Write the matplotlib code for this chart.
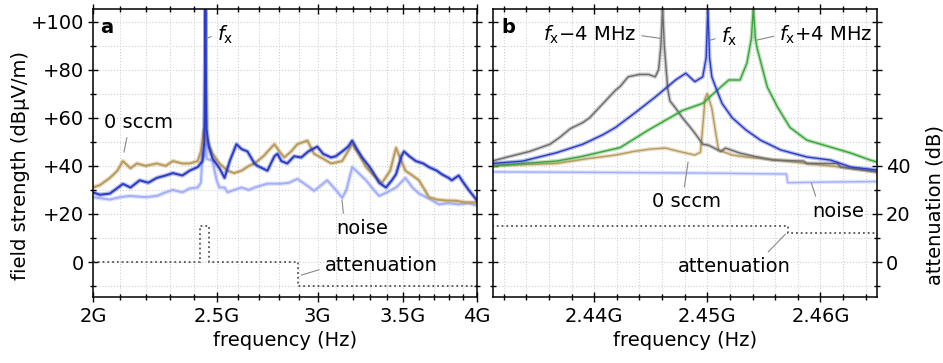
import matplotlib
matplotlib.use('Agg')
import matplotlib.pyplot as plt
from matplotlib.ticker import FixedLocator, MultipleLocator, FuncFormatter, NullFormatter
import numpy as np

plt.rcParams['font.family'] = ['DejaVu Sans']
plt.rcParams['font.size'] = 14
plt.rcParams['mathtext.fontset'] = 'dejavusans'

# ---------------- panel a data (frequency in GHz, level in dBuV/m) ----------------
sig_a_f = [2.000, 2.025, 2.062, 2.111, 2.140, 2.176, 2.210, 2.244, 2.280, 2.310, 2.350, 2.381,
           2.416, 2.437, 2.445, 2.449, 2.450, 2.451, 2.455, 2.465, 2.482, 2.513, 2.536, 2.560,
           2.591, 2.615, 2.643, 2.677, 2.691, 2.740, 2.775, 2.790, 2.810, 2.840, 2.875, 2.913,
           2.950, 2.998, 3.030, 3.074, 3.100, 3.136, 3.170, 3.193, 3.220, 3.251, 3.290, 3.310,
           3.352, 3.394, 3.430, 3.456, 3.490, 3.506, 3.540, 3.582, 3.630, 3.667, 3.720, 3.754,
           3.800, 3.822, 3.870, 3.892, 3.940, 4.000]
sig_a_v = [29, 28, 28.5, 32.5, 31, 34, 33, 35, 36, 37, 36, 38,
           39.5, 42, 50, 90, 106, 90, 55, 48, 43, 39, 35, 42,
           49, 47, 46, 41, 40, 38, 44, 45, 42, 41, 44, 43.5,
           46, 48, 45, 43.5, 44, 46, 48, 50.5, 47, 43.5, 40, 38,
           33, 31, 34, 36.5, 44, 46, 44, 42, 41, 39.5, 38, 36.5,
           35, 34, 36, 34, 30, 25.6]

gas_a_f = [2.000, 2.025, 2.062, 2.090, 2.111, 2.140, 2.165, 2.200, 2.244, 2.280, 2.310, 2.350,
           2.381, 2.416, 2.430, 2.443, 2.450, 2.460, 2.482, 2.513, 2.550, 2.580, 2.615, 2.650,
           2.677, 2.720, 2.775, 2.800, 2.825, 2.860, 2.892, 2.945, 2.981, 3.030, 3.074, 3.136,
           3.193, 3.230, 3.274, 3.320, 3.370, 3.420, 3.456, 3.490, 3.515, 3.560, 3.602, 3.640,
           3.667, 3.720, 3.781, 3.850, 3.920, 4.000]
gas_a_v = [31, 32, 35, 38, 42, 39, 41, 40, 41, 40, 42, 41,
           41, 42, 46, 55, 52, 50, 45, 41, 38, 37, 38, 40,
           41, 44, 49, 46, 43.5, 46, 49, 50.5, 45, 43, 41, 42,
           49, 45, 39.5, 36, 33, 38, 47.5, 42, 38, 36, 34, 30,
           27, 26, 25.6, 25.5, 24.8, 24.8]

noise_a_f = [2.000, 2.062, 2.100, 2.138, 2.200, 2.244, 2.280, 2.310, 2.350, 2.381, 2.416, 2.430,
             2.437, 2.447, 2.449, 2.450, 2.451, 2.455, 2.482, 2.500, 2.513, 2.536, 2.550, 2.580,
             2.615, 2.650, 2.677, 2.740, 2.810, 2.850, 2.892, 2.940, 2.981, 3.020, 3.052, 3.100,
             3.136, 3.160, 3.193, 3.230, 3.274, 3.320, 3.352, 3.400, 3.456, 3.515, 3.560, 3.602,
             3.680, 3.734, 3.800, 3.871, 3.940, 4.000]
noise_a_v = [27, 26, 27, 27.5, 27, 27.5, 29, 30, 29, 30.6, 31, 33,
             45, 44, 70, 104, 70, 43, 42, 34, 31, 31, 29, 30,
             31, 30, 31, 32.6, 32.6, 33, 34.6, 32, 29.6, 32, 34, 30,
             26.7, 30, 39.5, 37, 34, 30, 27.5, 29, 31, 35, 31, 28.5,
             26, 24, 24.5, 24, 24.5, 23.5]

att_a_edges = [2.0, 2.425, 2.468, 2.898, 4.0]
att_a_vals = [0, 15, 0, -10]

# ---------------- panel b data (frequency in MHz) ----------------
lo_b_f = [2431.0, 2432.6, 2434.3, 2436.1, 2437.0, 2437.9, 2439.0, 2439.6, 2440.8, 2441.9, 2442.3,
          2443.0, 2444.0, 2444.8, 2445.4, 2445.7, 2445.9, 2446.05, 2446.2, 2446.5, 2446.7, 2447.2,
          2447.8, 2448.5, 2448.9, 2449.6, 2450.1, 2451.2, 2451.6, 2452.9, 2454.1, 2455.8, 2458.5,
          2458.8, 2461.5, 2461.8, 2465.0]
lo_b_v = [42, 44, 46, 49, 52, 55.5, 58, 60, 66, 71.5, 73,
          77, 78, 78, 77, 80, 90, 106, 90, 72, 67, 64,
          60, 56, 53.6, 49, 48.6, 46, 47.4, 45.3, 44, 42.4, 42,
          41, 41, 39.5, 37.5]

mid_b_f = [2431.0, 2433.7, 2436.7, 2439.0, 2440.8, 2441.9, 2443.6, 2445.4, 2447.2, 2448.1, 2448.9,
           2449.6, 2449.9, 2450.05, 2450.2, 2450.4, 2450.8, 2451.3, 2452.2, 2453.4, 2454.7, 2456.5,
           2458.8, 2460.9, 2462.7, 2465.0]
mid_b_v = [41, 42, 45.5, 49, 53, 56, 62, 68.6, 75.7, 78.5, 75,
           77, 85, 106, 85, 77, 72, 66, 60, 55, 50.7, 46.6,
           43.7, 42.4, 39.5, 38.3]

hi_b_f = [2431.0, 2433.7, 2436.7, 2439.0, 2442.3, 2444.8, 2447.8, 2449.6, 2450.7, 2451.9, 2452.9,
          2453.5, 2453.9, 2454.07, 2454.25, 2454.4, 2454.9, 2455.3, 2456.2, 2457.3, 2458.8, 2460.9,
          2462.7, 2464.4, 2465.0]
hi_b_v = [40, 41, 42, 44, 47.6, 54.9, 63, 66, 70.7, 75.7, 75.7,
          82.7, 93, 106, 93, 89, 80, 72.8, 64.5, 56, 50.7, 47.8,
          45.3, 42.4, 41.6]

gas_b_f = [2431.0, 2433.7, 2436.7, 2439.4, 2441.9, 2443.5, 2445.0, 2446.3, 2447.5, 2448.9, 2449.4,
           2449.65, 2449.8, 2450.0, 2450.4, 2450.7, 2451.0, 2452.2, 2453.4, 2456.0, 2458.8, 2461.8,
           2465.0]
gas_b_v = [40, 40.5, 41, 43, 44.5, 46, 47, 47.4, 46, 44.5, 45.7,
           59, 68, 70, 64, 55, 46.6, 44.5, 43.7, 42.5, 41, 39.5,
           37.5]

noise_b_f = [2431.0, 2440.0, 2450.0, 2457.0, 2457.1, 2461.0, 2465.0]
noise_b_v = [37.5, 37.3, 37.0, 36.6, 33.0, 33.3, 33.5]

att_b_edges = [2431.0, 2457.1, 2465.0]
att_b_vals = [15, 12]

c_sig = '#2b3cc4'
c_gas = '#b99b5c'
c_noise = '#a3affa'
c_lo = '#6d6d6d'
c_hi = '#3aa53a'
c_att = '#555555'


def trace(ax, f, v, color, scale, lw=1.0):
    f = np.array(f) * scale
    ax.plot(f, v, color=color, lw=lw + 1.8, alpha=0.35, solid_joinstyle='round')
    ax.plot(f, v, color=color, lw=lw)


def note(ax, txt, xy, xytext, relpos, ha='center'):
    ax.annotate(txt, xy=xy, xytext=xytext, ha=ha, va='center',
                arrowprops=dict(arrowstyle='-', color='#888888', lw=0.8,
                                relpos=relpos, shrinkA=2, shrinkB=0))


fig = plt.figure(figsize=(9.43, 3.63), dpi=100)
ax_a = fig.add_axes([93 / 943, 66 / 363, 384 / 943, 288 / 363])
ax_b = fig.add_axes([493 / 943, 66 / 363, 384 / 943, 288 / 363])

# panel a
trace(ax_a, noise_a_f, noise_a_v, c_noise, 1e9, lw=1.4)
trace(ax_a, gas_a_f, gas_a_v, c_gas, 1e9, lw=1.4)
trace(ax_a, sig_a_f, sig_a_v, c_sig, 1e9, lw=1.4)
ax_a.stairs(att_a_vals, np.array(att_a_edges) * 1e9, color=c_att, ls=':', lw=1.3, baseline=None)

ax_a.set_xscale('log')
ax_a.set_xlim(2e9, 4e9)
ax_a.xaxis.set_major_locator(FixedLocator([2e9, 2.5e9, 3e9, 3.5e9, 4e9]))
ax_a.xaxis.set_major_formatter(FuncFormatter(lambda x, p: f'{x / 1e9:g}G'))
ax_a.xaxis.set_minor_locator(FixedLocator(np.arange(2.1, 4.0, 0.1) * 1e9))
ax_a.xaxis.set_minor_formatter(NullFormatter())
ax_a.yaxis.set_major_formatter(FuncFormatter(lambda y, p: '0' if y == 0 else f'+{y:g}'))
ax_a.set_ylabel('field strength (dBμV/m)')
ax_a.yaxis.set_label_coords(-0.165, 0.455)

# panel b
trace(ax_b, noise_b_f, noise_b_v, c_noise, 1e6)
trace(ax_b, gas_b_f, gas_b_v, c_gas, 1e6)
trace(ax_b, lo_b_f, lo_b_v, c_lo, 1e6)
trace(ax_b, hi_b_f, hi_b_v, c_hi, 1e6)
trace(ax_b, mid_b_f, mid_b_v, c_sig, 1e6)
ax_b.stairs(att_b_vals, np.array(att_b_edges) * 1e6, color=c_att, ls=':', lw=1.3, baseline=None)

ax_b.set_xlim(2431.06e6, 2465.0e6)
ax_b.xaxis.set_major_locator(FixedLocator([2.44e9, 2.45e9, 2.46e9]))
ax_b.xaxis.set_major_formatter(FuncFormatter(lambda x, p: f'{x / 1e9:.2f}G'))
ax_b.xaxis.set_minor_locator(MultipleLocator(2e6))
ax_b.yaxis.set_major_formatter(FuncFormatter(lambda y, p: f'{y:g}' if y <= 40 else ''))
ax_b.tick_params(axis='y', which='both', labelleft=False, labelright=True)
ax_b.yaxis.set_label_position('right')
ax_b.set_ylabel('attenuation (dB)')
ax_b.yaxis.set_label_coords(1.125, 0.32)

for ax in (ax_a, ax_b):
    ax.set_ylim(-14.5, 105.2)
    ax.yaxis.set_major_locator(FixedLocator([0, 20, 40, 60, 80, 100]))
    ax.yaxis.set_minor_locator(FixedLocator([-10, 10, 30, 50, 70, 90]))
    ax.grid(which='both', color='#d0d0d0', ls=':', lw=0.8)
    ax.set_axisbelow(True)
    ax.tick_params(which='both', direction='inout', top=True, right=True, width=1.0)
    ax.tick_params(which='major', length=7)
    ax.tick_params(which='minor', length=4)
    ax.tick_params(axis='x', pad=4)
    ax.tick_params(axis='y', pad=3)
    for s in ax.spines.values():
        s.set_linewidth(1.1)
    ax.set_xlabel('frequency (Hz)', labelpad=3)

ax_a.text(0.018, 0.917, 'a', transform=ax_a.transAxes, fontweight='bold', va='baseline')
ax_b.text(0.023, 0.917, 'b', transform=ax_b.transAxes, fontweight='bold', va='baseline')

fx = r'$f_\mathrm{x}$'
note(ax_a, fx, (2.455e9, 93), (2.50e9, 94.5), (0, 0.5), ha='left')
note(ax_a, '0 sccm', (2.115e9, 45.7), (2.172e9, 58), (0.35, 0.1))
note(ax_a, 'noise', (3.135e9, 25.8), (3.251e9, 14), (0.15, 0.95))
note(ax_a, 'attenuation', (2.913e9, -5.4), (3.364e9, -1.3), (0.0, 0.35))

note(ax_b, fx + '\u22124 MHz', (2445.85e6, 93), (2439.6e6, 94.4), (1, 0.5))
note(ax_b, fx, (2450.3e6, 92.3), (2451.9e6, 93.5), (0, 0.5))
note(ax_b, fx + '+4 MHz', (2454.4e6, 92.3), (2460.5e6, 94.4), (0, 0.5))
note(ax_b, '0 sccm', (2448.3e6, 41.6), (2448.2e6, 25), (0.45, 0.95))
note(ax_b, 'noise', (2459.2e6, 32.8), (2461.6e6, 21.2), (0.1, 0.95))
note(ax_b, 'attenuation', (2456.9e6, 11.6), (2452.4e6, -1.7), (0.75, 0.95))

fig.savefig('out.png', dpi=100)
